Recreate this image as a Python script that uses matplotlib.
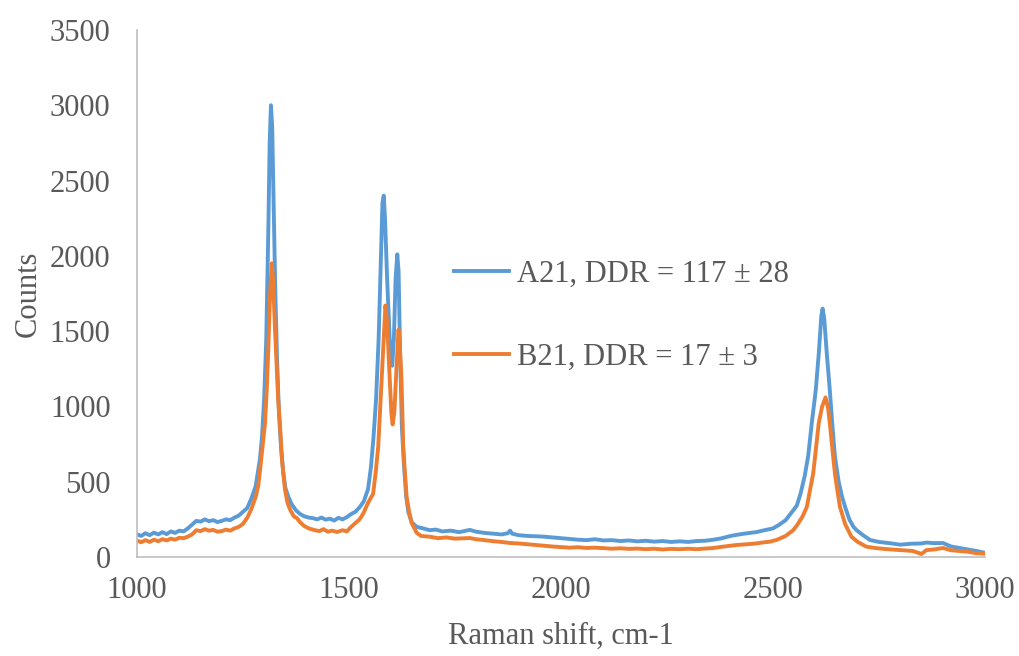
import numpy as np
import matplotlib
matplotlib.use('Agg')
import matplotlib.pyplot as plt

# Raman spectra (cm-1, counts)
a21_shift = [1000, 1010, 1020, 1030, 1040, 1050, 1060, 1070, 1080, 1090, 1100, 1110, 1120, 1130, 1140,
             1150, 1160, 1170, 1180, 1190, 1200, 1210, 1220, 1230, 1240, 1250, 1260, 1270, 1280, 1290,
             1295, 1300, 1305, 1310, 1313, 1316, 1319, 1322, 1326, 1330, 1335, 1340, 1345, 1350, 1357,
             1365, 1375, 1385, 1395, 1405, 1415, 1425, 1435, 1445, 1455, 1465, 1475, 1485, 1495, 1505,
             1515, 1525, 1535, 1545, 1552, 1558, 1564, 1570, 1575, 1579, 1582, 1585, 1590, 1596, 1602,
             1606, 1610, 1614, 1617, 1621, 1625, 1630, 1635, 1640, 1648, 1660, 1675, 1690, 1705, 1720,
             1740, 1760, 1785, 1800, 1820, 1840, 1860, 1875, 1880, 1885, 1900, 1920, 1940, 1960, 1980,
             2000, 2020, 2040, 2060, 2080, 2100, 2120, 2140, 2160, 2180, 2200, 2220, 2240, 2260, 2280,
             2300, 2320, 2340, 2360, 2380, 2400, 2420, 2440, 2460, 2480, 2500, 2515, 2530, 2545, 2556,
             2565, 2575, 2583, 2592, 2601, 2608, 2614, 2617, 2621, 2627, 2634, 2640, 2646, 2655, 2663,
             2670, 2680, 2690, 2697, 2710, 2729, 2750, 2775, 2800, 2825, 2850, 2862, 2880, 2901, 2920,
             2940, 2960, 2980, 3000]
a21_counts = [150, 140, 158, 145, 162, 150, 165, 152, 170, 160, 175, 170, 190, 215, 240,
              235, 250, 238, 245, 232, 240, 250, 245, 262, 275, 300, 325, 390, 470, 650,
              800, 1050, 1450, 2200, 2750, 3000, 2850, 2400, 1800, 1350, 950, 720, 560, 460, 400,
              350, 310, 285, 270, 262, 258, 250, 262, 248, 255, 242, 260, 250, 265, 285,
              300, 330, 370, 450, 600, 800, 1050, 1450, 1950, 2350, 2400, 2250, 1850, 1450, 1270,
              1450, 1850, 2010, 1900, 1300, 850, 600, 400, 300, 230, 200, 190, 178, 182, 170,
              175, 165, 180, 168, 160, 155, 150, 158, 175, 155, 145, 140, 138, 135, 130,
              125, 120, 115, 112, 118, 110, 112, 106, 110, 104, 108, 102, 106, 100, 104,
              100, 106, 108, 115, 125, 140, 150, 158, 165, 178, 190, 215, 245, 300, 340,
              420, 540, 670, 900, 1110, 1350, 1600, 1650, 1580, 1350, 1110, 880, 670, 500, 400,
              334, 250, 200, 179, 150, 113, 100, 92, 82, 88, 90, 96, 92, 93, 70,
              60, 50, 40, 28]

b21_shift = [1000, 1010, 1020, 1030, 1040, 1050, 1060, 1070, 1080, 1090, 1100, 1110, 1120, 1130, 1140,
             1150, 1160, 1170, 1180, 1190, 1200, 1210, 1220, 1230, 1240, 1250, 1260, 1270, 1280, 1286,
             1292, 1298, 1302, 1306, 1310, 1314, 1318, 1321, 1325, 1329, 1333, 1337, 1342, 1349, 1355,
             1362, 1370, 1377, 1385, 1395, 1405, 1417, 1430, 1440, 1450, 1460, 1472, 1485, 1495, 1505,
             1515, 1525, 1534, 1545, 1557, 1563, 1569, 1577, 1582, 1586, 1590, 1595, 1600, 1603, 1607,
             1612, 1617, 1620, 1624, 1628, 1632, 1636, 1642, 1648, 1660, 1670, 1690, 1710, 1730, 1750,
             1785, 1800, 1820, 1840, 1860, 1880, 1900, 1920, 1940, 1960, 1983, 2000, 2020, 2040, 2060,
             2080, 2100, 2120, 2140, 2160, 2180, 2200, 2220, 2240, 2260, 2280, 2300, 2320, 2340, 2360,
             2380, 2400, 2415, 2440, 2460, 2480, 2493, 2510, 2530, 2548, 2557, 2570, 2580, 2595, 2608,
             2616, 2624, 2630, 2634, 2640, 2646, 2652, 2658, 2670, 2685, 2700, 2720, 2740, 2770, 2800,
             2830, 2850, 2862, 2880, 2901, 2920, 2940, 2960, 2980, 3000]
b21_counts = [110, 98, 112, 100, 115, 105, 118, 110, 122, 115, 128, 125, 135, 150, 178,
              172, 185, 175, 180, 168, 172, 182, 175, 190, 200, 220, 260, 320, 400, 470,
              620, 780, 890, 1100, 1400, 1750, 1950, 1850, 1550, 1300, 1050, 890, 650, 450, 360,
              310, 270, 259, 230, 205, 190, 180, 172, 185, 168, 175, 166, 178, 170, 200,
              225, 250, 290, 360, 420, 560, 732, 1174, 1450, 1670, 1560, 1250, 960, 880, 960,
              1250, 1510, 1400, 1174, 732, 560, 400, 300, 225, 160, 140, 135, 125, 130, 122,
              126, 118, 112, 105, 100, 93, 90, 85, 80, 75, 69, 66, 62, 65, 60,
              62, 59, 55, 58, 54, 56, 52, 55, 50, 54, 52, 55, 52, 56, 60,
              68, 75, 80, 85, 90, 98, 102, 115, 140, 179, 212, 270, 334, 557, 889,
              1000, 1060, 990, 889, 720, 557, 440, 334, 220, 135, 100, 69, 60, 52, 46,
              40, 20, 46, 50, 60, 45, 40, 35, 25, 22]

labels = ['A21, DDR = 117 ± 28', 'B21, DDR = 17 ± 3']
colors = ['#5B9BD5', '#ED7D31']

plt.rcParams['font.family'] = ['Liberation Serif', 'DejaVu Serif']
txt = '#595959'
fs = 22

fig = plt.figure(figsize=(10.19, 6.56), dpi=100)
ax = fig.add_axes([0.1344, 0.1509, 0.8322, 0.8034])

ax.plot(a21_shift, a21_counts, color=colors[0], lw=2.8, label=labels[0])
ax.plot(b21_shift, b21_counts, color=colors[1], lw=2.8, label=labels[1])

ax.set_xlim(1000, 3000)
ax.set_ylim(0, 3500)
ax.set_xticks(np.arange(1000, 3001, 500))
ax.set_yticks(np.arange(0, 3501, 500))
ax.tick_params(axis='both', length=0, labelsize=fs, labelcolor=txt)
ax.tick_params(axis='y', pad=19)
ax.tick_params(axis='x', pad=14)

for s in ['top', 'right']:
    ax.spines[s].set_visible(False)
for s in ['left', 'bottom']:
    ax.spines[s].set_color('#BFBFBF')
    ax.spines[s].set_linewidth(1.2)

ax.set_xlabel('Raman shift, cm-1', fontsize=fs, color=txt, labelpad=12)
ax.set_ylabel('Counts', fontsize=fs, color=txt, labelpad=5)

leg = ax.legend(loc='center left', bbox_to_anchor=(0.374, 0.458), frameon=False,
                fontsize=fs, labelspacing=1.75, handlelength=1.8, handletextpad=0.25,
                borderpad=0, borderaxespad=0)
for t in leg.get_texts():
    t.set_color(txt)

plt.savefig('out.png', dpi=100)
